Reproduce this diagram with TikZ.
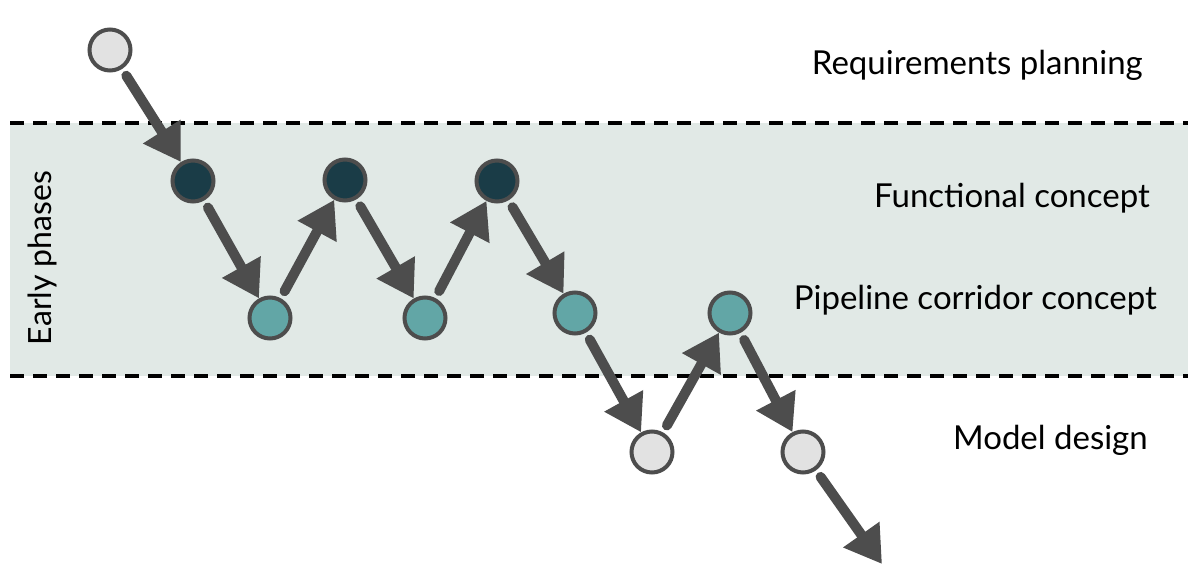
\documentclass[tikz,border=0pt]{standalone}
\usepackage{fontspec}
\setmainfont{Lato}
\usetikzlibrary{arrows.meta}
\definecolor{band}{HTML}{E1E9E6}
\definecolor{lightc}{HTML}{E2E2E2}
\definecolor{darkc}{HTML}{1A3C47}
\definecolor{tealc}{HTML}{62A6A6}
\definecolor{edgec}{HTML}{4D4D4D}
\tikzset{
  dot/.style={circle, draw=edgec, line width=4pt, minimum size=41pt, inner sep=0pt},
  rq/.style={dot, fill=lightc},
  fc/.style={dot, fill=darkc},
  pc/.style={dot, fill=tealc},
  arr/.style={draw=edgec, line width=10pt, line cap=round,
    -{Triangle[length=36pt,width=42pt]}, shorten <=8pt, shorten >=0pt},
  lbl/.style={font=\fontsize{33}{38}\selectfont, anchor=east, inner sep=0pt},
  dashline/.style={line width=3.5pt, dash pattern=on 14pt off 9pt}
}
\begin{document}
\begin{tikzpicture}[x=1pt,y=-1pt]
\useasboundingbox (0,0) rectangle (1200,580);
\fill[band] (10,123) rectangle (1188,376);
\coordinate (bl1) at (10,123);
\coordinate (br1) at (1188,123);
\coordinate (bl2) at (10,376);
\coordinate (br2) at (1188,376);
\draw[dashline] (bl1) -- (br1);
\draw[dashline] (bl2) -- (br2);
\node[rq] (r1) at (110,50) {};
\node[fc] (f1) at (193,181) {};
\node[pc] (p1) at (270,318) {};
\node[fc] (f2) at (345,180) {};
\node[pc] (p2) at (425,318) {};
\node[fc] (f3) at (497,181) {};
\node[pc] (p3) at (575,313) {};
\node[rq] (m1) at (652,452) {};
\node[pc] (p4) at (730,313) {};
\node[rq] (m2) at (803,452) {};
\coordinate (end) at (882,564);
\draw[arr] (r1) -- (f1);
\draw[arr] (f1) -- (p1);
\draw[arr] (p1) -- (f2);
\draw[arr] (f2) -- (p2);
\draw[arr] (p2) -- (f3);
\draw[arr] (f3) -- (p3);
\draw[arr] (p3) -- (m1);
\draw[arr] (m1) -- (p4);
\draw[arr] (p4) -- (m2);
\draw[arr] (m2) -- (end);
\node[lbl] (t1) at (1143,65) {Requirements planning};
\node[lbl] (t2) at (1150,198) {Functional concept};
\node[lbl] (t3) at (1157,300) {Pipeline corridor concept};
\node[lbl] (t4) at (1148,440) {Model design};
\node[font=\fontsize{32}{36}\selectfont, rotate=90, inner sep=0pt] (t5) at (42,258) {Early phases};
\end{tikzpicture}
\end{document}
